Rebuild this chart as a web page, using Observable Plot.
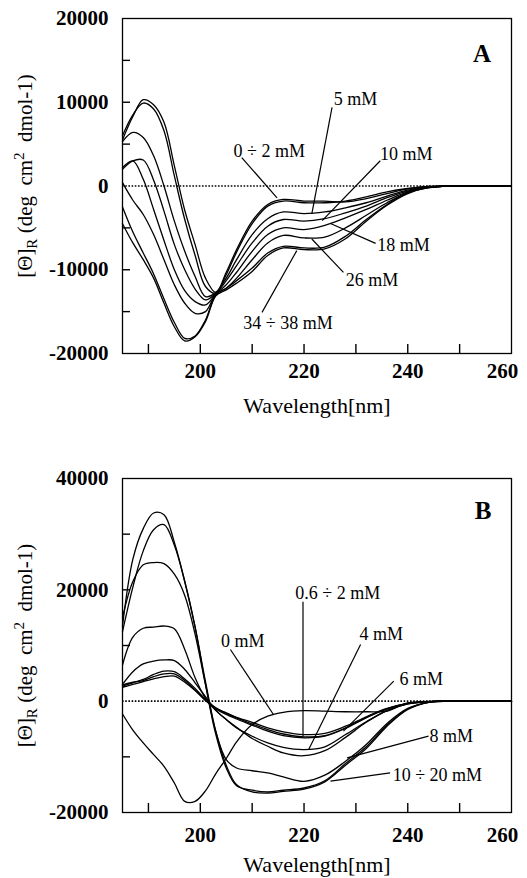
<!DOCTYPE html>
<html><head><meta charset="utf-8">
<script src="https://cdn.jsdelivr.net/npm/d3@7"></script>
<script src="https://cdn.jsdelivr.net/npm/@observablehq/plot@0.6"></script>
<style>
html,body{margin:0;padding:0;background:#fff;overflow:hidden;width:527px;height:878px;}
#chart svg{display:block;}
</style></head><body><div id="chart"></div>
<script>
// Wavelength grid (nm)
const wavelengths = [185,187,189,191,193,195,197,199,201,203,205,207,210,213,216,220,224,228,232,236,240,244,248,254,260];

// Panel A series ([Θ]R values)
const a_0mM  = [5500, 8300, 10300, 9700, 7600, 2400, -2900, -7000, -11000, -12700, -10300, -7600, -4200, -2200, -1600, -1800, -1800, -1900, -1500, -900, -350, -50, 0, 50, 50];
const a_2mM  = [6000, 8500, 9900, 9200, 6600, 1200, -4000, -8300, -12000, -12800, -10600, -7900, -4500, -2400, -1800, -2000, -2000, -1800, -1300, -700, -300, -50, 0, 0, 50];
const a_5mM  = [5300, 6400, 5800, 3600, 0, -4200, -7800, -10800, -13200, -12700, -11000, -8800, -5800, -3900, -3100, -3300, -3100, -2600, -2000, -1200, -500, -100, 0, 0, 0];
const a_10mM = [2000, 3000, 3100, 700, -3000, -7000, -10000, -12300, -13600, -12800, -11300, -9500, -6800, -4800, -4000, -4200, -3900, -3200, -2400, -1400, -600, -150, 0, 0, 0];
const a_18mM = [2200, 3000, 800, -2800, -6500, -10000, -12500, -13800, -14200, -12900, -11800, -10300, -7800, -5800, -5000, -5200, -4700, -3800, -2800, -1700, -700, -150, 0, 0, 0];
const a_26mM = [400, -1700, -3400, -5800, -8800, -11800, -14000, -15200, -15000, -12900, -12200, -11000, -8800, -6800, -5900, -6200, -6100, -5000, -3500, -2000, -800, -200, 0, 0, 0];
const a_34mM = [-2500, -5500, -8000, -10500, -13500, -16300, -18200, -17900, -16000, -13000, -12200, -11300, -9800, -8000, -7200, -7400, -7300, -6000, -4000, -2200, -800, -200, 0, 0, 0];
const a_38mM = [-4500, -6800, -8800, -11000, -14000, -16800, -18500, -18000, -16200, -13100, -12400, -11600, -10200, -8300, -7400, -7600, -7500, -6300, -4200, -2300, -900, -200, 0, 0, 0];

// Panel B series
const b_0mM   = [-2300, -5200, -7500, -9600, -11700, -14700, -18000, -18000, -16100, -13000, -10300, -7300, -4200, -2700, -2000, -1700, -1800, -1900, -1900, -1800, -300, -50, 0, 0, 0];
const b_06mM  = [2500, 3000, 3500, 4000, 4400, 4500, 3400, 1900, 100, -1300, -2100, -2900, -3800, -4800, -5500, -6000, -5800, -4500, -2800, -1300, -400, -100, 0, 0, 0];
const b_1mM   = [2900, 3400, 3700, 4400, 4900, 4900, 3700, 2000, 200, -1400, -2400, -3200, -4300, -5400, -6200, -6600, -6300, -4900, -3000, -1400, -400, -100, 0, 0, 0];
const b_2mM   = [2700, 3300, 3900, 4800, 5400, 5300, 4000, 2300, 300, -1200, -2200, -3000, -4100, -5100, -5900, -6400, -6200, -4800, -2900, -1400, -400, -100, 0, 0, 0];
const b_4mM   = [3000, 5300, 6700, 7200, 7400, 7300, 5700, 3300, 800, -1600, -3300, -4800, -6300, -7500, -8300, -8700, -8200, -6000, -3700, -1700, -500, -100, 0, 0, 0];
const b_6mM   = [6500, 11500, 13100, 13300, 13500, 13000, 9300, 4200, 500, -1700, -3300, -4700, -6700, -8100, -9300, -9800, -8900, -6500, -3800, -1700, -500, -100, 0, 0, 0];
const b_8mM   = [15000, 21500, 24500, 24900, 24700, 22800, 19000, 12000, 3000, -5500, -10500, -12000, -12500, -12900, -13600, -14400, -13300, -10800, -7800, -4000, -1300, -200, 0, 0, 0];
const b_10mM  = [12500, 20500, 27000, 30800, 31700, 28000, 21500, 13300, 3000, -6000, -12000, -15200, -16000, -16300, -16000, -15600, -14300, -11200, -8200, -4300, -1400, -200, 0, 0, 0];
const b_20mM  = [13500, 25500, 31000, 33800, 33500, 28500, 21500, 13300, 3500, -5500, -11500, -15000, -16300, -16500, -16200, -15800, -14500, -11500, -8500, -4500, -1500, -200, 0, 0, 0];

// Tick values
const xTickLabels = [200, 220, 240];
const xTickLabelEnd = [260];
const xTickMarks = [190, 200, 210, 220, 230, 240, 250];
const yTickLabelsA = [-20000, -10000, 0, 10000, 20000];
const yTickMarksA = [-15000, -10000, -5000, 5000, 10000, 15000];
const yTickLabelsB = [-20000, 0, 20000, 40000];
const yTickMarksB = [-10000, 10000, 20000, 30000];

// Annotations (data coordinates)
const labelTextA = ["5 mM", "0 ÷ 2 mM", "10 mM", "18 mM", "26 mM", "34 ÷ 38 mM"];
const labelXA = [229.9, 213.3, 239.7, 239.2, 233.1, 216.9];
const labelYA = [10390, 4130, 3740, -7130, -11310, -16400];
const leaderA = [[225.4, 9400, 221.5, -3340], [208.0, 3400, 214.8, -1430], [234.7, 3020, 223.5, -4140],
                 [233.8, -6850, 225.1, -4470], [227.6, -10320, 221.5, -6330], [211.9, -15090, 218.6, -7720]];
const labelTextB = ["0.6 ÷ 2 mM", "4 mM", "6 mM", "8 mM", "10 ÷ 20 mM", "0 mM"];
const labelXB = [226.5, 234.9, 242.6, 248.4, 245.7, 208.2];
const labelYB = [19460, 11970, 3890, -6290, -13350, 10780];
const leaderB = [[219.8, 17840, 219.8, -6290], [230.9, 10180, 220.9, -8680], [237.3, 3590, 227.6, -5390],
                 [244.0, -6290, 228.3, -10180], [236.6, -12870, 225.1, -14370], [205.8, 9280, 214.1, -2400]];

const FONT = "'Liberation Serif', 'Times New Roman', serif";
const W = 527, ML = 122, MR = 16;
const X_DOMAIN = [185, 260];
const TICK_X_PX = 9, TICK_Y_PX = 8;

function rowsOf(series) {
  return series.flatMap(([id, vals]) => vals.map((v, i) => ({id, w: wavelengths[i], v})));
}

function panel(o) {
  const rows = rowsOf(o.series);
  const labels = o.labelText.map((t, i) => ({t, x: o.labelX[i], y: o.labelY[i]}));
  const leaders = o.leaders.map(([x1, y1, x2, y2]) => ({x1, y1, x2, y2}));
  const plotH = o.height - o.marginTop - o.marginBottom;
  const plotW = W - ML - MR;
  const [y0, y1] = o.yDomain;
  // tick lengths converted from pixels into data units of each scale
  const dyTick = (y1 - y0) * TICK_X_PX / plotH;
  const dxTick = (X_DOMAIN[1] - X_DOMAIN[0]) * TICK_Y_PX / plotW;
  const svg = Plot.plot({
    width: W, height: o.height,
    marginLeft: ML, marginRight: MR, marginTop: o.marginTop, marginBottom: o.marginBottom,
    style: {fontFamily: FONT, fontSize: "21px", background: "white", color: "black"},
    x: {domain: X_DOMAIN},
    y: {domain: o.yDomain},
    marks: [
      Plot.ruleY([0], {stroke: "black", strokeWidth: 1.6, strokeDasharray: "1.6,1.6"}),
      Plot.line(rows, {x: "w", y: "v", z: "id", stroke: "black", strokeWidth: 1.3, curve: "catmull-rom"}),
      Plot.link(leaders, {x1: "x1", y1: "y1", x2: "x2", y2: "y2", stroke: "black", strokeWidth: 1.2}),
      Plot.text(labels, {x: "x", y: "y", text: "t", fontSize: 18, textAnchor: "middle", lineAnchor: "middle", fill: "black"}),
      Plot.text([o.letter], {x: o.letterX, y: o.letterY, text: d => d, fontSize: 25, fontWeight: "bold", textAnchor: "middle", lineAnchor: "middle"}),
      Plot.frame({stroke: "black", strokeWidth: 1.3}),
      // inward tick marks
      Plot.ruleX(xTickMarks, {x: d => d, y1: y0, y2: y0 + dyTick, stroke: "black", strokeWidth: 1.4}),
      Plot.ruleY(o.yMarks, {y: d => d, x1: X_DOMAIN[0], x2: X_DOMAIN[0] + dxTick, stroke: "black", strokeWidth: 1.4}),
      Plot.axisX({ticks: xTickLabels, tickSize: 0, tickPadding: o.xPad, tickFormat: d => String(d), fontWeight: "bold", fontSize: 21, label: null}),
      Plot.axisX({ticks: xTickLabelEnd, tickSize: 0, tickPadding: o.xPad, tickFormat: d => String(d), fontWeight: "bold", fontSize: 21, label: null, dx: -9}),
      Plot.axisY({ticks: o.yLabels, tickSize: 0, tickPadding: 14, tickFormat: d => String(d), fontWeight: "bold", fontSize: 21, label: null}),
      Plot.text(["Wavelength[nm]"], {frameAnchor: "bottom", dy: o.titleDy, text: d => d, fontSize: 22, lineAnchor: "middle"}),
      Plot.text(["[Θ]R (deg cm2 dmol-1)"], {frameAnchor: "left", dx: -97, dy: o.ylabDy, rotate: -90, text: d => d, fontSize: 21, textAnchor: "middle", lineAnchor: "middle"})
    ]
  });
  // subscript / superscript in the y label
  const NS = "http://www.w3.org/2000/svg";
  for (const t of svg.querySelectorAll("text")) {
    if (t.textContent.startsWith("[Θ]")) {
      while (t.firstChild) t.removeChild(t.firstChild);
      const parts = [["[Θ]", 0, null], ["R", 5, 15], [" (deg\u00a0\u00a0cm", -5, null], ["2", -8, 15], ["\u00a0\u00a0dmol-1)", 8, null]];
      for (const [s, dy, fs] of parts) {
        const ts = document.createElementNS(NS, "tspan");
        ts.textContent = s;
        if (dy) ts.setAttribute("dy", dy);
        if (fs) ts.setAttribute("font-size", fs);
        t.appendChild(ts);
      }
    }
  }
  return svg;
}

const chart = document.getElementById("chart");
chart.appendChild(panel({
  series: [["0", a_0mM], ["2", a_2mM], ["5", a_5mM], ["10", a_10mM], ["18", a_18mM], ["26", a_26mM], ["34", a_34mM], ["38", a_38mM]],
  height: 440, marginTop: 18, marginBottom: 87, yDomain: [-20000, 20000],
  yLabels: yTickLabelsA, yMarks: yTickMarksA,
  labelText: labelTextA, labelX: labelXA, labelY: labelYA, leaders: leaderA,
  letter: "A", letterX: 254.3, letterY: 15760, xPad: 10, titleDy: 52, ylabDy: -10
}));
chart.appendChild(panel({
  series: [["0", b_0mM], ["0.6", b_06mM], ["1", b_1mM], ["2", b_2mM], ["4", b_4mM], ["6", b_6mM], ["8", b_8mM], ["10", b_10mM], ["20", b_20mM]],
  height: 438, marginTop: 38, marginBottom: 66, yDomain: [-20000, 40000],
  yLabels: yTickLabelsB, yMarks: yTickMarksB,
  labelText: labelTextB, labelX: labelXB, labelY: labelYB, leaders: leaderB,
  letter: "B", letterX: 254.5, letterY: 34130, xPad: 15, titleDy: 52, ylabDy: 0
}));
</script></body></html>
